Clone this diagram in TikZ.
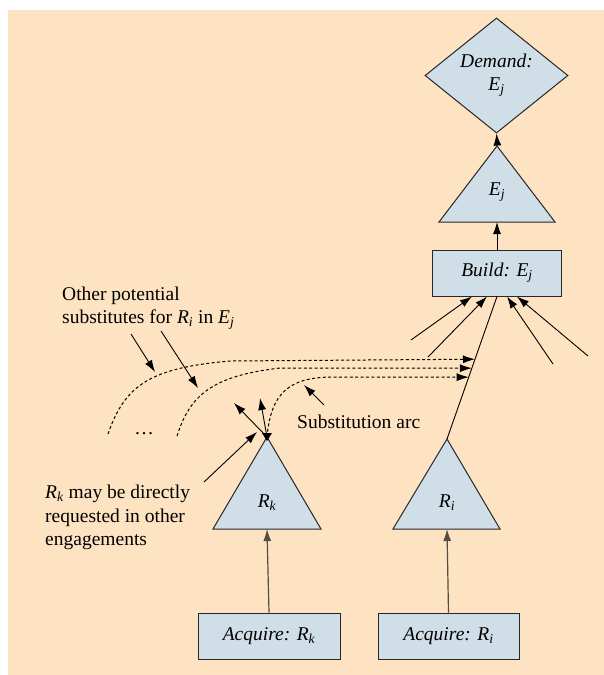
\documentclass[tikz,border=0pt]{standalone}
\usepackage{fontspec}
\setmainfont{Liberation Serif}[Ligatures=TeX]
\usetikzlibrary{arrows.meta,shapes.geometric,calc}
\definecolor{paper}{RGB}{253,227,193}
\definecolor{boxfill}{RGB}{207,222,231}
\definecolor{edge}{RGB}{40,38,38}
\definecolor{stem}{RGB}{85,76,70}
\newcommand\sbsc[2]{\textit{#1}\textsubscript{\textit{#2}}}

\begin{document}
\begin{tikzpicture}[x=1pt,y=-1pt,
  font=\fontsize{19.5}{23.5}\selectfont\rmfamily,
  shapebox/.style={draw=edge,fill=boxfill,line width=1pt},
  boxnode/.style={shapebox,rectangle,inner sep=0pt,font=\fontsize{19.5}{23.5}\selectfont\rmfamily\itshape},
  link/.style={-{Latex[length=12pt,width=8pt]},line width=0.9pt,draw=black},
  stemlink/.style={link,draw=stem,line width=1.2pt},
  sublink/.style={link,line width=1pt,dash pattern=on 3pt off 2.4pt},
  plain/.style={inner sep=0pt,anchor=base west},
  trilabel/.style={inner sep=0pt,font=\fontsize{19.5}{23.5}\selectfont\rmfamily\itshape}
]
% frame
\useasboundingbox (0,0) rectangle (604,675);
\fill[paper] (8,10) rectangle (604,675);

% demand, product and build step
\node[diamond,shapebox,minimum width=143pt,minimum height=89pt,inner sep=0pt,
      align=center,font=\fontsize{19.5}{23}\selectfont\rmfamily\itshape] (demand) at (496.5,75.5)
      {Demand:\\\sbsc{E}{j}};
\coordinate (ejtop) at (497,146);
\coordinate (ejbase) at (497,222);
\draw[shapebox] (ejtop) -- (439,222) -- (555,222) -- cycle;
\node[trilabel] (ejlabel) at (497,192) {\sbsc{E}{j}};
\node[boxnode,minimum width=129pt,minimum height=46pt] (build) at (497,273) {Build: \sbsc{E}{j}};

\draw[link] ([yshift=6pt]ejtop) -- (demand.south);
\draw[link] (build.north) -- (ejbase);

% resource triangles
\coordinate (rktop) at (267,437);
\coordinate (rkbase) at (267,529);
\draw[shapebox] (rktop) -- (213,529) -- (321,529) -- cycle;
\node[trilabel] (rklabel) at (267,503) {\sbsc{R}{k}};

\coordinate (ritop) at (447,439);
\coordinate (ribase) at (447,529);
\draw[shapebox] (ritop) -- (393,529) -- (500,529) -- cycle;
\node[trilabel] (rilabel) at (447,503) {\sbsc{R}{i}};

% acquisition steps
\node[boxnode,minimum width=142pt,minimum height=46pt] (acqk) at (269,636) {Acquire: \sbsc{R}{k}};
\node[boxnode,minimum width=141pt,minimum height=46pt] (acqi) at (448.5,636) {Acquire: \sbsc{R}{i}};
\draw[stemlink] (acqk.north) -- (rkbase);
\draw[stemlink] (acqi.north) -- (ribase);

% R_i feeds the build step
\draw[line width=0.9pt] (build.south) -- (ritop);

% other inputs of the build step
\coordinate (in1) at (411,340);
\coordinate (in2) at (428,357);
\coordinate (in4) at (553,364);
\coordinate (in5) at (588,356);
\draw[link] (in1) -- ([xshift=-25pt]build.south);
\draw[link] (in2) -- ([xshift=-10pt]build.south);
\draw[link] (in4) -- ([xshift=10pt]build.south);
\draw[link] (in5) -- ([xshift=20pt]build.south);

% substitution arcs
\coordinate (hit1) at ($(build.south)!0.44!(ritop)$);
\coordinate (hit2) at ($(build.south)!0.503!(ritop)$);
\coordinate (hit3) at ($(build.south)!0.566!(ritop)$);
\coordinate (alt1) at (108,434);
\coordinate (alt2) at (177,436);
\draw[sublink] (alt1) .. controls (125,385) and (150,368) .. (230,361) -- (hit1);
\draw[sublink] (alt2) .. controls (190,395) and (212,376) .. (280,368) -- (hit2);
\draw[sublink] (rktop) .. controls (271,392) and (290,378) .. (330,377) -- (hit3);
\node[inner sep=0pt,anchor=base] (dots) at (144,434) {\ldots};

% direct requests for R_k
\coordinate (reqin) at (204,482);
\coordinate (reqout1) at (234,403);
\coordinate (reqout2) at (260,398);
\draw[link] (reqin) -- (257,432);
\draw[link] (rktop) -- (reqout1);
\draw[link] (rktop) -- (reqout2);
\fill[black] (262,433) -- (272,433) -- (267,441) -- cycle;

% annotations
\node[plain] (othertext) at (62,300) {Other potential};
\node[plain] (othertext2) at (62,323) {substitutes for \sbsc{R}{i} in \sbsc{E}{j}};
\coordinate (oth1) at (131,334);
\coordinate (oth2) at (161,331);
\draw[link] (oth1) -- (155,372);
\draw[link] (oth2) -- (198,388);

\node[plain] (subtext) at (297,428) {Substitution arc};
\coordinate (subfrom) at (324,405);
\draw[link] (subfrom) -- (304,385);

\node[plain] (reqtext1) at (45,498) {\sbsc{R}{k} may be directly};
\node[plain] (reqtext2) at (45,522) {requested in other};
\node[plain] (reqtext3) at (45,545) {engagements};
\end{tikzpicture}
\end{document}
